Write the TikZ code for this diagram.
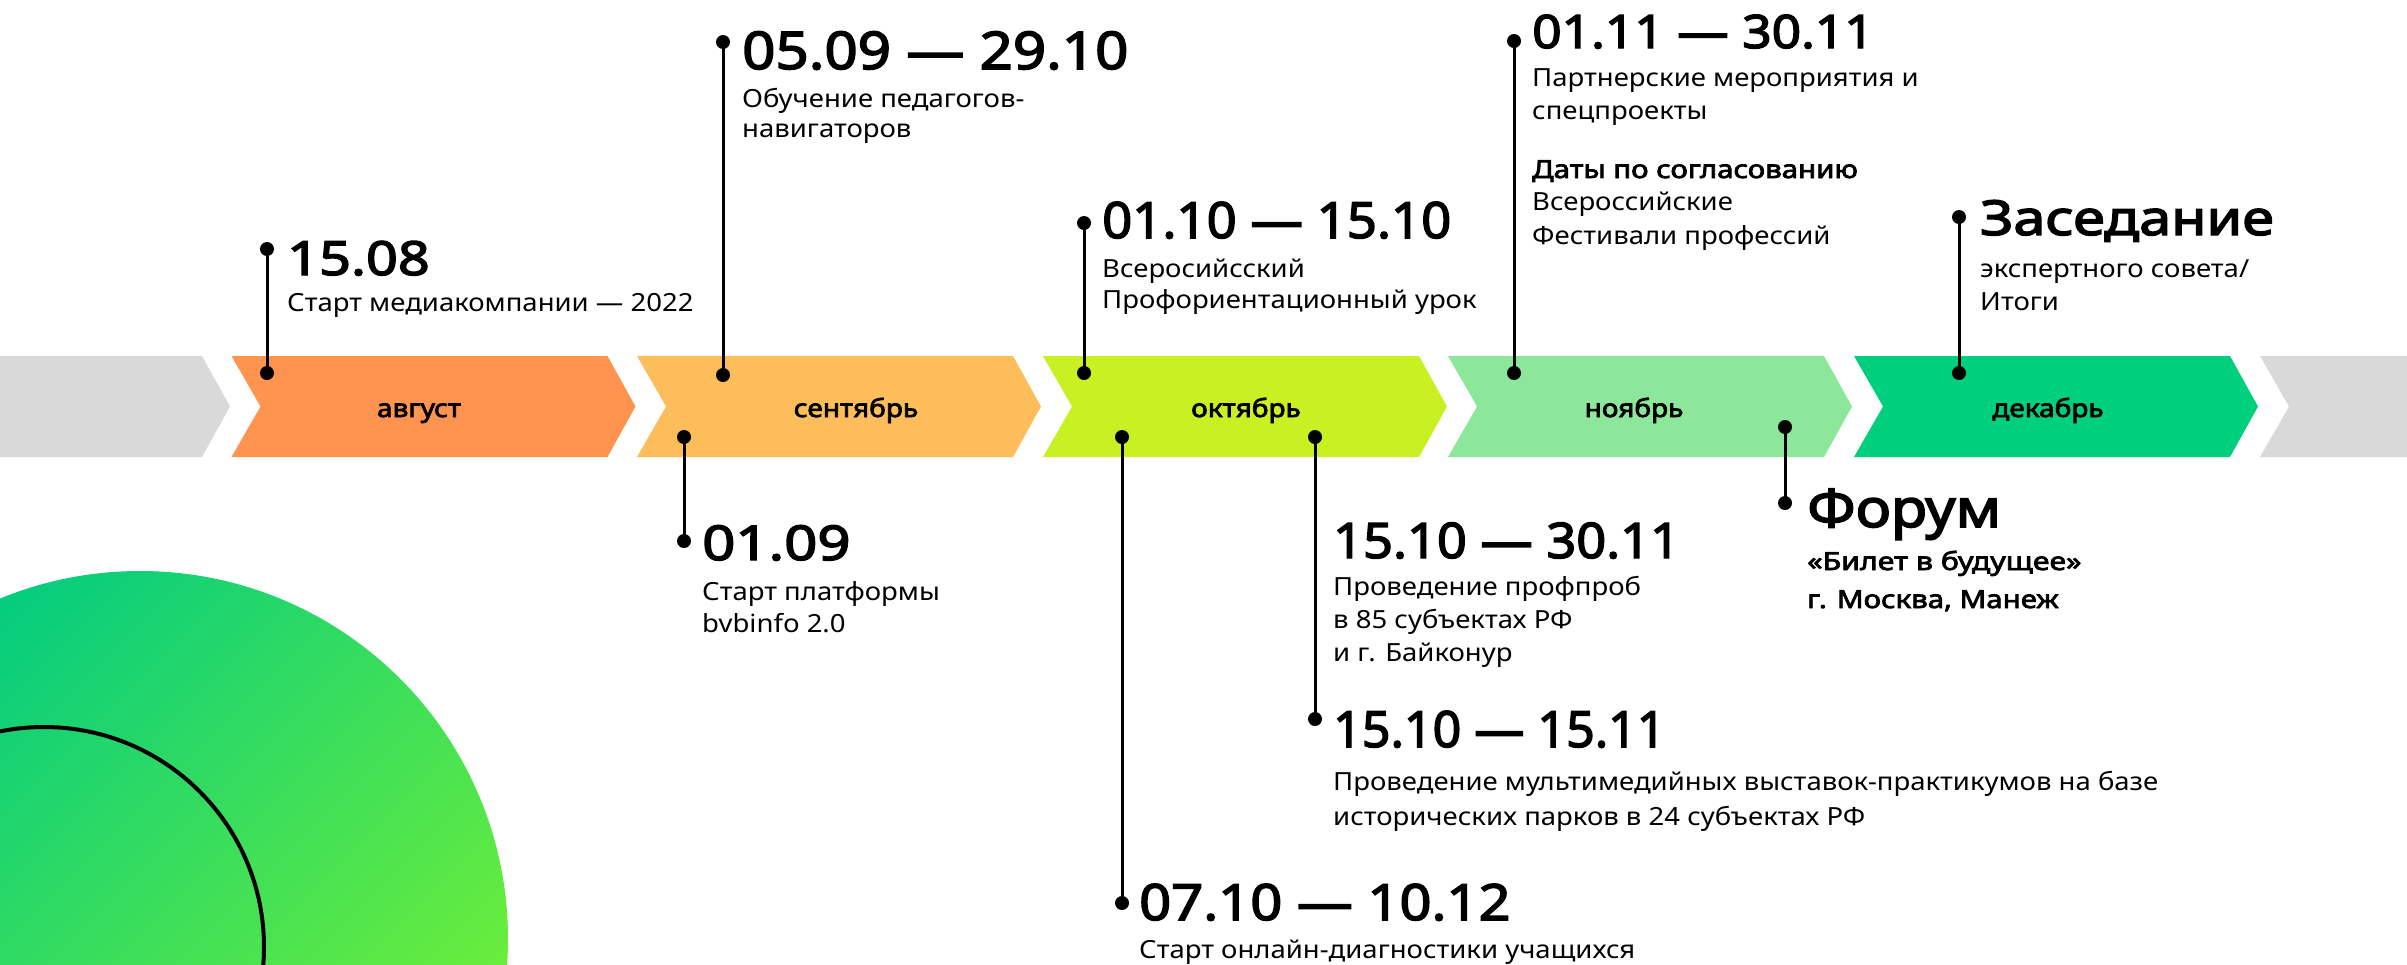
\documentclass[tikz,border=0pt]{standalone}
\usepackage{graphicx}
\usepackage{fontspec}
\setmainfont{Noto Sans}
\newfontfamily\rg{Noto Sans}[FakeStretch=1.1]
\IfFontExistsTF{Noto Sans Bold}{%
  \newfontfamily\bd{Noto Sans Bold}[FakeStretch=1.1]}{%
  \IfFontExistsTF{NotoSans-Bold.ttf}{%
    \newfontfamily\bd{NotoSans-Bold.ttf}[FakeStretch=1.1]}{%
    \newfontfamily\bd{Noto Sans}[FakeBold=3,FakeStretch=1.12]}}
\definecolor{cgray}{HTML}{D9D9D9}
\definecolor{caug}{HTML}{FF9450}
\definecolor{csep}{HTML}{FDBD5B}
\definecolor{coct}{HTML}{C8F023}
\definecolor{cnov}{HTML}{8CE79A}
\definecolor{cdec}{HTML}{00CF7D}
\definecolor{gA}{HTML}{00CB82}
\definecolor{gB}{HTML}{78F232}
\newcommand\chev[2]{\fill[#2] (#1,356) -- ++(376,0) -- ++(28,50.5) -- ++(-28,50.5) -- ++(-376,0) -- ++(29,-50.5) -- cycle;}
\newcommand\hs[2]{\scalebox{#1}[1]{#2}}
\tikzset{
  pinline/.style={line width=3pt},
  pindot/.style={circle, fill=black, inner sep=0pt, minimum size=14pt},
  datelbl/.style={inner sep=0pt, anchor=base west, font=\bd\fontsize{#1}{#1}\selectfont},
  sub/.style={inner sep=0pt, anchor=base west, align=left, font=\rg\fontsize{25}{#1}\selectfont},
  subb/.style={inner sep=0pt, anchor=base west, align=left, font=\bd\fontsize{25}{#1}\selectfont},
  month/.style={inner sep=0pt, anchor=base, font=\bd\fontsize{25}{25}\selectfont}
}
\begin{document}
\begin{tikzpicture}[x=1pt,y=-1pt]
\useasboundingbox (0,0) rectangle (2407,964);
\begin{scope}
\clip (0,0) rectangle (2407,964);
\shade[top color=gA, bottom color=gB, shading angle=45] (140,939) circle (368);
\draw[line width=4pt] (44,947) circle (220);
\chev{-174}{cgray}
\chev{231.5}{caug}
\chev{637}{csep}
\chev{1043}{coct}
\chev{1448}{cnov}
\chev{1854}{cdec}
\chev{2260}{cgray}
\end{scope}
% month labels
\node[month] (maug) at (419,417) {август};
\node[month] (msep) at (856,417) {сентябрь};
\node[month] (moct) at (1246,417) {октябрь};
\node[month] (mnov) at (1634,417) {ноябрь};
\node[month] (mdec) at (2048,417) {декабрь};
% pins
\node[pindot] (p1a) at (267,249) {};
\node[pindot] (p1b) at (267,373) {};
\node[pindot] (p2a) at (723,42) {};
\node[pindot] (p2b) at (723,375) {};
\node[pindot] (p3a) at (684,437) {};
\node[pindot] (p3b) at (684,541) {};
\node[pindot] (p4a) at (1084,223) {};
\node[pindot] (p4b) at (1084,373) {};
\node[pindot] (p5a) at (1122,437) {};
\node[pindot] (p5b) at (1122,903) {};
\node[pindot] (p6a) at (1315,437) {};
\node[pindot] (p6b) at (1315,719) {};
\node[pindot] (p7a) at (1785,427) {};
\node[pindot] (p7b) at (1785,503) {};
\node[pindot] (p8a) at (1514,41) {};
\node[pindot] (p8b) at (1514,373) {};
\node[pindot] (p9a) at (1959,217) {};
\node[pindot] (p9b) at (1959,373) {};
\foreach \n in {1,...,9}{\draw[pinline] (p\n a.center) -- (p\n b.center);}
% texts (multi-line nodes are placed at the baseline of their last line)
\node[datelbl=47] (t1) at (287,275) {\hs{1.06}{15.08}};
\node[sub=33] (s1) at (287,311) {Старт медиакомпании — 2022};
\node[datelbl=52] (t2) at (742,69) {05.09 — 29.10};
\node[sub=30] (s2) at (742,137) {Обучение педагогов-\\навигаторов};
\node[datelbl=48] (t3) at (702,560) {\hs{1.08}{01.09}};
\node[sub=32] (s3) at (702,632) {Старт платформы\\bvbinfo 2.0};
\node[datelbl=50] (t4) at (1102,238) {\hs{0.94}{01.10 — 15.10}};
\node[sub=31] (s4) at (1102,308) {Всеросийсский\\Профориентационный урок};
\node[datelbl=50] (t5) at (1139,920) {07.10 — 10.12};
\node[sub=33] (s5) at (1139,958) {Старт онлайн-диагностики учащихся};
\node[datelbl=49] (t6) at (1333,558) {\hs{0.953}{15.10 — 30.11}};
\node[sub=33] (s6) at (1333,661) {Проведение профпроб\\в 85 субъектах РФ\\и г. Байконур};
\node[datelbl=50] (t7) at (1333,747) {\hs{0.895}{15.10 — 15.11}};
\node[sub=35] (s7) at (1333,825) {Проведение мультимедийных выставок-практикумов на базе\\исторических парков в 24 субъектах РФ};
\node[datelbl=53] (t8) at (1807,527) {Форум};
\node[subb=38] (s8) at (1807,608) {\hs{1.08}{«Билет в будущее»}\\\hs{1.05}{г. Москва, Манеж}};
\node[datelbl=46] (t9) at (1532,48) {01.11 — 30.11};
\node[sub=33] (s9) at (1532,119) {Партнерские мероприятия и\\спецпроекты};
\node[subb=33] (s9b) at (1532,178) {\hs{1.05}{Даты по согласованию}};
\node[sub=34] (s9c) at (1532,244) {Всероссийские\\Фестивали профессий};
\node[datelbl=48] (t10) at (1980,235) {\hs{1.07}{Заседание}};
\node[sub=33] (s10) at (1980,310) {экспертного совета/\\Итоги};
\end{tikzpicture}
\end{document}
